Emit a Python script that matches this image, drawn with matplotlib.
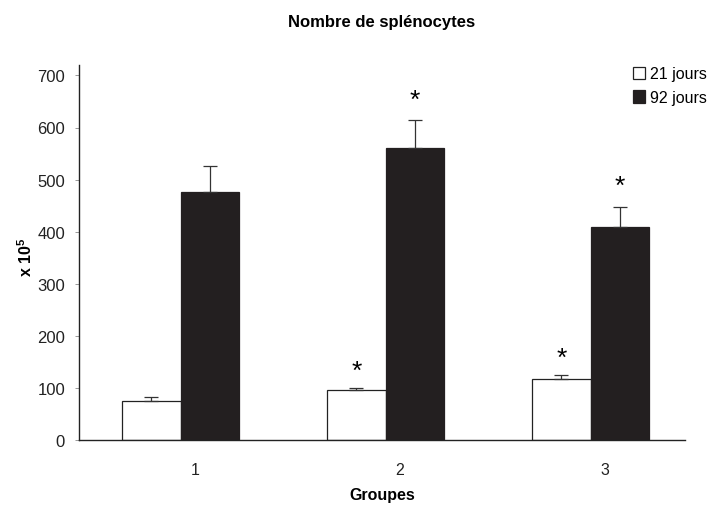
import numpy as np
import matplotlib.pyplot as plt

plt.rcParams['font.family'] = ['Liberation Sans', 'DejaVu Sans']

groupes = ['1', '2', '3']
jours21 = [75, 96, 117]
err21 = [7, 4, 8]
jours92 = [476, 560, 409]
err92 = [50, 54, 38]
# asterisque = difference significative
sig21 = [False, True, True]
sig92 = [False, True, True]

x = np.arange(1, len(groupes) + 1)
w = 0.285

fig = plt.figure(figsize=(7.07, 5.06), dpi=100)
ax = fig.add_axes([79 / 707, 65 / 506, 606 / 707, 375 / 506])

ax.bar(x - w / 2, jours21, w, color='white', edgecolor='#222222', linewidth=0.9,
       yerr=[[0] * 3, err21], capsize=5, error_kw=dict(ecolor='#333333', elinewidth=0.9, capthick=0.9),
       label='21 jours')
ax.bar(x + w / 2, jours92, w, color='#231f20', edgecolor='#231f20', linewidth=0.9,
       yerr=[[0] * 3, err92], capsize=5, error_kw=dict(ecolor='#333333', elinewidth=0.9, capthick=0.9),
       label='92 jours')

for i in range(len(groupes)):
    if sig21[i]:
        ax.text(x[i] - w / 2, jours21[i] + err21[i] + 32, '*', ha='center', va='center', fontsize=19)
    if sig92[i]:
        ax.text(x[i] + w / 2, jours92[i] + err92[i] + 40, '*', ha='center', va='center', fontsize=19)

ax.set_xlim(0.505, 3.46)
ax.set_ylim(0, 720)
ax.set_yticks(range(0, 701, 100))
ax.set_xticks(x + 0.07)
ax.set_xticklabels(groupes)
ax.tick_params(axis='x', length=0, pad=16, labelsize=11.5, labelcolor='#222222')
ax.tick_params(axis='y', length=3, width=0.6, pad=7, labelsize=12, labelcolor='#222222', color='#888888')
for s in ['top', 'right']:
    ax.spines[s].set_visible(False)
for s in ['left', 'bottom']:
    ax.spines[s].set_linewidth(1.0)
    ax.spines[s].set_color('#222222')

ax.set_xlabel('Groupes', fontsize=11.5, fontweight='bold')
ax.xaxis.set_label_coords(0.5, -0.125)
ax.set_ylabel('x 10$^{\\mathregular{5}}$', fontsize=11.5, fontweight='bold')
ax.yaxis.set_label_coords(-0.073, 0.49)
fig.suptitle('Nombre de splénocytes', fontsize=12, fontweight='bold', x=0.54, y=0.97)

ax.legend(loc='upper right', bbox_to_anchor=(1.06, 1.035), frameon=False, fontsize=11.5,
          handlelength=0.8, handleheight=0.8, handletextpad=0.3, labelspacing=0.55)

fig.savefig('out.png', dpi=100)
